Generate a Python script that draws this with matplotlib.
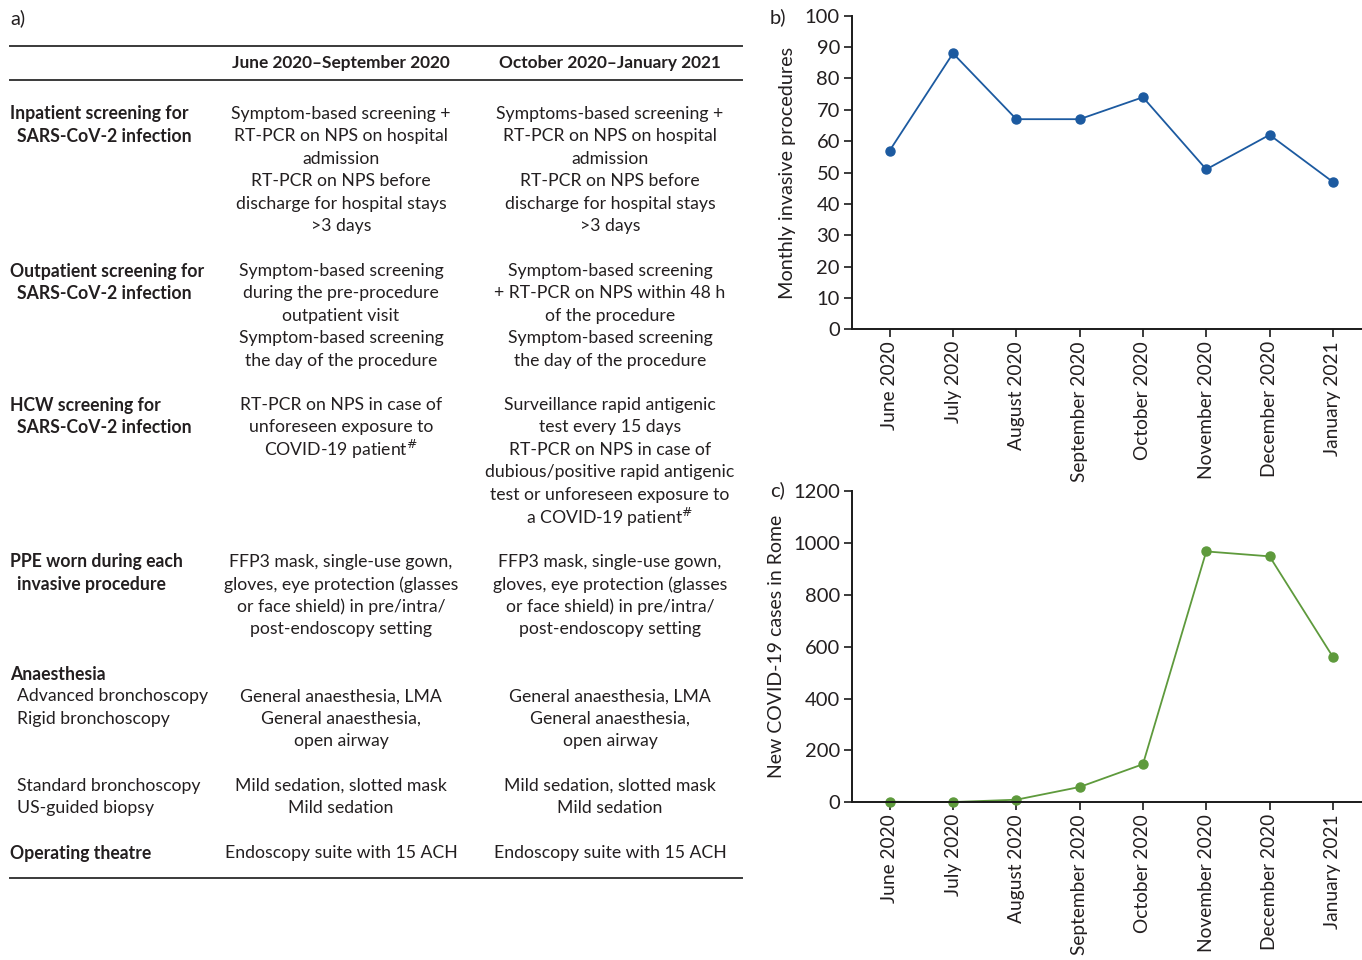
import matplotlib
matplotlib.use("Agg")
import matplotlib.pyplot as plt

plt.rcParams['font.family'] = ['Lato', 'DejaVu Sans']

# ---- data -------------------------------------------------------------
months = ["June 2020", "July 2020", "August 2020", "September 2020",
          "October 2020", "November 2020", "December 2020", "January 2021"]
procedures = [57, 88, 67, 67, 74, 51, 62, 47]
covid_cases = [2, 1, 10, 59, 147, 968, 949, 561]

proc_ticks = list(range(0, 101, 10))
case_ticks = list(range(0, 1201, 200))

col_headers = ["June 2020\u2013September 2020", "October 2020\u2013January 2021"]

# each row: (label lines, bold flags, first-col lines, second-col lines, top y in px)
table_rows = [
    (["Inpatient screening for", " SARS-CoV-2 infection"], [True, True],
     ["Symptom-based screening +", "RT-PCR on NPS on hospital", "admission",
      "RT-PCR on NPS before", "discharge for hospital stays", ">3 days"],
     ["Symptoms-based screening +", "RT-PCR on NPS on hospital", "admission",
      "RT-PCR on NPS before", "discharge for hospital stays", ">3 days"], 113),
    (["Outpatient screening for", " SARS-CoV-2 infection"], [True, True],
     ["Symptom-based screening", "during the pre-procedure", "outpatient visit",
      "Symptom-based screening", "the day of the procedure"],
     ["Symptom-based screening", "+ RT-PCR on NPS within 48 h", "of the procedure",
      "Symptom-based screening", "the day of the procedure"], 270),
    (["HCW screening for", " SARS-CoV-2 infection"], [True, True],
     ["RT-PCR on NPS in case of", "unforeseen exposure to", "COVID-19 patient$^{\\#}$"],
     ["Surveillance rapid antigenic", "test every 15 days", "RT-PCR on NPS in case of",
      "dubious/positive rapid antigenic", "test or unforeseen exposure to",
      "a COVID-19 patient$^{\\#}$"], 404),
    (["PPE worn during each", " invasive procedure"], [True, True],
     ["FFP3 mask, single-use gown,", "gloves, eye protection (glasses",
      "or face shield) in pre/intra/", "post-endoscopy setting"],
     ["FFP3 mask, single-use gown,", "gloves, eye protection (glasses",
      "or face shield) in pre/intra/", "post-endoscopy setting"], 561),
    (["Anaesthesia", " Advanced bronchoscopy", " Rigid bronchoscopy"], [True, False, False],
     ["", "General anaesthesia, LMA", "General anaesthesia,", "open airway"],
     ["", "General anaesthesia, LMA", "General anaesthesia,", "open airway"], 673),
    ([" Standard bronchoscopy", " US-guided biopsy"], [False, False],
     ["Mild sedation, slotted mask", "Mild sedation"],
     ["Mild sedation, slotted mask", "Mild sedation"], 785),
    (["Operating theatre"], [True],
     ["Endoscopy suite with 15 ACH"], ["Endoscopy suite with 15 ACH"], 852),
]

# ---- figure -----------------------------------------------------------
W, H = 1362, 960
fig = plt.figure(figsize=(W / 100, H / 100), dpi=100)
TXT = "#231f20"
FS_TAB = 12.7
FS_HDR = 12.4
FS_LAB = 12.7
LINE = 22.4


def fx(px):
    return px / W


def fy(py):
    return 1 - py / H


# table panel a)
fig.text(fx(10), fy(18), "a)", fontsize=14.5, color=TXT, va="center", ha="left")
for yl in (46, 80, 878):
    fig.add_artist(plt.Line2D([fx(10), fx(742)], [fy(yl), fy(yl)],
                              color="#3a3a3a", lw=1.4))
col_x = [341, 610]
for cx, hdr in zip(col_x, col_headers):
    fig.text(fx(cx), fy(63), hdr, fontsize=FS_HDR, fontweight="bold",
             color=TXT, ha="center", va="center")

for labels, bolds, c1, c2, y0 in table_rows:
    for i, (lab, b) in enumerate(zip(labels, bolds)):
        indent = 7 if lab.startswith(" ") else 0
        fig.text(fx(10 + indent), fy(y0 + 1 + i * LINE), lab.strip(),
                 fontsize=FS_LAB,
                 fontweight="bold" if b else "normal", color=TXT,
                 ha="left", va="center")
    for cx, col in zip(col_x, (c1, c2)):
        for i, line in enumerate(col):
            if line:
                fig.text(fx(cx), fy(y0 + 1 + i * LINE), line, fontsize=FS_TAB,
                         color=TXT, ha="center", va="center")


# chart panels b) and c)
def style_axis(ax, ticks, ylim):
    ax.set_xlim(-0.6, 7.46)
    ax.set_ylim(*ylim)
    ax.set_yticks(ticks)
    ax.set_xticks(range(len(months)))
    ax.set_xticklabels(months, rotation=90)
    for s in ("top", "right"):
        ax.spines[s].set_visible(False)
    for s in ("left", "bottom"):
        ax.spines[s].set_linewidth(1.4)
        ax.spines[s].set_color("#1a1a1a")
    ax.tick_params(axis="both", direction="out", length=6, width=1.2,
                   colors="#1a1a1a", labelcolor=TXT, pad=2.5)
    ax.tick_params(axis="y", labelsize=14.5)
    ax.tick_params(axis="x", labelsize=13.8)
    ax.patch.set_alpha(0)


left = fx(851.7)
ax_b = fig.add_axes([left, fy(329.3), 1 - left, (329.3 - 15.7) / H])
ax_b.plot(range(len(months)), procedures, color="#1c5aa0", lw=1.3,
          marker="o", ms=6.5, clip_on=False)
style_axis(ax_b, proc_ticks, (0, 100))
ax_b.set_ylabel("Monthly invasive procedures", fontsize=14.3, color=TXT, labelpad=6)

ax_c = fig.add_axes([left, fy(802.3), 1 - left, (802.3 - 491.3) / H])
ax_c.plot(range(len(months)), covid_cases, color="#5e9a3c", lw=1.3,
          marker="o", ms=6.5, clip_on=False)
style_axis(ax_c, case_ticks, (0, 1200))
ax_c.set_ylabel("New COVID-19 cases in Rome", fontsize=14.0, color=TXT, labelpad=6)

fig.text(fx(778), fy(17), "b)", fontsize=14.5, color=TXT, ha="center", va="center")
fig.text(fx(778), fy(490), "c)", fontsize=14.5, color=TXT, ha="center", va="center")

fig.savefig("out.png", dpi=100, facecolor="white")
